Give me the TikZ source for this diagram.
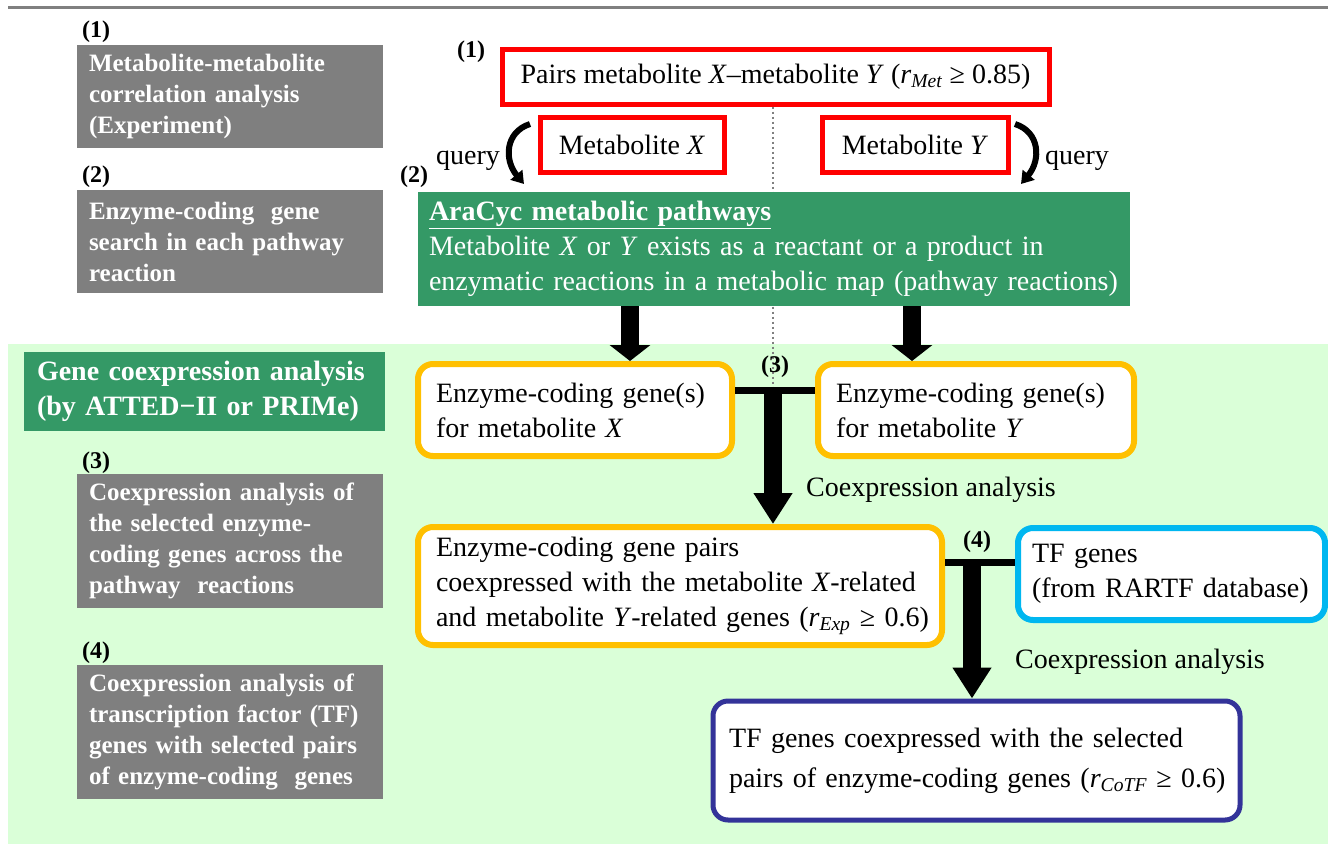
\documentclass[tikz,border=0pt]{standalone}
\usepackage{fontspec}
\setmainfont{Liberation Serif}
\usetikzlibrary{arrows.meta}
\definecolor{boxgray}{RGB}{127,127,127}
\definecolor{darkgreen}{RGB}{52,153,102}
\definecolor{paleg}{RGB}{218,255,216}
\definecolor{orangeb}{RGB}{255,192,0}
\definecolor{cyanb}{RGB}{0,183,240}
\definecolor{navyb}{RGB}{51,51,153}
\definecolor{redb}{RGB}{255,0,0}
\definecolor{rulegray}{RGB}{128,128,128}
\newcommand\fmain{\fontsize{28pt}{35pt}\selectfont}
\newcommand\fside{\bfseries\fontsize{25pt}{31pt}\selectfont}
\newcommand\keep[1]{\mbox{#1}}
\newcommand\rsub[1]{\textit{r}\textsubscript{\textit{#1}}}
\begin{document}
\begin{tikzpicture}[x=1pt,y=-1pt,
  sidebox/.style={fill=boxgray,text=white,font=\fside,align=left,anchor=north west,
    inner xsep=12pt,inner ysep=0pt,outer sep=0pt,minimum width=306pt,text width=282pt},
  num/.style={font=\bfseries\fontsize{24pt}{28pt}\selectfont,inner sep=0pt},
  redbox/.style={draw=redb,line width=5pt,fill=white,font=\fmain,anchor=north west,inner sep=0pt},
  rbox/.style={draw=#1,line width=6pt,rounded corners=15pt,fill=white,font=\fmain,
    align=left,anchor=north west,inner ysep=0pt,inner xsep=18pt},
  fatarrow/.style={line width=18pt,-{Triangle[width=40pt,length=16pt]}},
  longarrow/.style={line width=18pt,-{Triangle[width=37pt,length=31pt]}},
  joinbar/.style={line width=7pt},
  qarrow/.style={line width=6pt,-{Triangle[width=15pt,length=12pt]}},
  lbl/.style={font=\fmain,inner sep=0pt}]
\useasboundingbox (0,0) rectangle (1328,844);
% background elements
\draw[rulegray,line width=3pt] (8,7) -- (1328,7);
\fill[paleg] (8,344) rectangle (1328,844);

% left column
\node[num,anchor=west] (n1) at (82,32) {(1)};
\node[sidebox,minimum height=103pt] (g1) at (77,45) {Metabolite-metabolite\\correlation analysis\\(Experiment)};
\node[num,anchor=west] (n2) at (82,177) {(2)};
\node[sidebox,minimum height=103pt] (g2) at (77,190) {Enzyme-coding~ gene\\search in each pathway\\reaction};
\node[fill=darkgreen,text=white,font=\bfseries\fontsize{28pt}{35pt}\selectfont,align=left,anchor=north west,
  inner xsep=13pt,inner ysep=0pt,outer sep=0pt,minimum width=361pt,text width=335pt,minimum height=79pt] (gc) at (24,352)
  {Gene coexpression analysis\\(by ATTED−II or PRIMe)};
\node[num,anchor=west] (n3) at (82,463) {(3)};
\node[sidebox,minimum height=134pt] (g3) at (77,474) {Coexpression analysis of\\the selected enzyme-\\coding genes across the\\pathway~ reactions};
\node[num,anchor=west] (n4) at (82,653) {(4)};
\node[sidebox,minimum height=134pt] (g4) at (77,665) {Coexpression analysis of\\transcription factor (TF)\\genes with selected pairs\\of enzyme-coding~ genes};

% helper coordinates
\coordinate (a1) at (630,0);
\coordinate (a2) at (912,0);
\coordinate (j3) at (773,390);
\coordinate (j4) at (972,562);

% top red boxes
\node[num] (r1) at (471,52) {(1)};
\node[redbox,minimum width=547pt,minimum height=55pt] (rtop) at (499.5,46.5)
  {Pairs metabolite \textit{X}–metabolite \textit{Y} (\rsub{Met} ≥ 0.85)};
\draw[rulegray,line width=2pt,dash pattern=on 2pt off 3pt] (rtop.south -| j3) -- (j3);
\node[redbox,minimum width=184pt,minimum height=55pt] (mx) at (537.5,114.5) {Metabolite \textit{X}};
\node[redbox,minimum width=186pt,minimum height=55pt] (my) at (819.5,114.5) {Metabolite \textit{Y}};

% query arrows
\coordinate (q1s) at (530,124);
\coordinate (q1e) at (524,184);
\coordinate (q2s) at (1015,124);
\coordinate (q2e) at (1021,184);
\draw[qarrow] (q1s) .. controls (505,132) and (504,160) .. (q1e);
\draw[qarrow] (q2s) .. controls (1040,132) and (1041,160) .. (q2e);
\node[lbl,anchor=base] (ql) at (468,164) {query};
\node[lbl,anchor=base] (qr) at (1077,164) {query};
\node[num] (r2) at (414,177) {(2)};

% AraCyc
\node[fill=darkgreen,text=white,font=\fmain,align=left,anchor=north west,inner xsep=11pt,inner ysep=0pt,
  outer sep=0pt,minimum width=712pt,text width=690pt,minimum height=114pt] (ara) at (418,192)
  {\keep{\underline{\textbf{AraCyc metabolic pathways}}}\\
   \keep{Metabolite \textit{X} or \textit{Y} exists as a reactant or a product in}\\
   \keep{enzymatic reactions in a metabolic map (pathway reactions)}};

% enzyme boxes
\node[rbox=orangeb,minimum width=314pt,text width=278pt,minimum height=92pt] (ox) at (415,361)
  {\keep{Enzyme-coding gene(s)}\\for metabolite \textit{X}};
\node[rbox=orangeb,minimum width=316pt,text width=280pt,minimum height=92pt] (oy) at (815,361)
  {\keep{Enzyme-coding gene(s)}\\for metabolite \textit{Y}};
\draw[fatarrow] (ara.south -| a1) -- (ox.north -| a1);
\draw[fatarrow] (ara.south -| a2) -- (oy.north -| a2);

\node[num] (r3) at (775,367) {(3)};
\draw[joinbar] (ox.east |- j3) -- (oy.west |- j3);

\node[rbox=orangeb,minimum width=524pt,text width=488pt,minimum height=118pt] (ob) at (415,524)
  {\keep{Enzyme-coding gene pairs}\\
   \keep{coexpressed with the metabolite \textit{X}-related}\\
   \keep{and metabolite \textit{Y}-related genes (\rsub{Exp} ≥ 0.6)}};
\draw[longarrow] (j3) -- (j3 |- ob.north);
\node[lbl,anchor=west] (c3) at (806,490) {Coexpression analysis};

\node[rbox=cyanb,inner xsep=14pt,minimum width=307pt,text width=279pt,minimum height=92pt] (cb) at (1015,525)
  {TF genes\\\keep{(from RARTF database)}};
\node[num] (r4) at (977,542) {(4)};
\draw[joinbar] (ob.east |- j4) -- (cb.west |- j4);

\node[rbox=navyb,line width=5pt,inner xsep=16pt,minimum width=527pt,text width=495pt,minimum height=119pt,
  font=\fontsize{28pt}{40pt}\selectfont] (nb) at (710.5,698.5)
  {\keep{TF genes coexpressed with the selected}\\
   \keep{pairs of enzyme-coding genes (\rsub{CoTF} ≥ 0.6)}};
\draw[longarrow] (j4) -- (j4 |- nb.north);
\node[lbl,anchor=west] (c4) at (1015,662) {Coexpression analysis};
\end{tikzpicture}
\end{document}
